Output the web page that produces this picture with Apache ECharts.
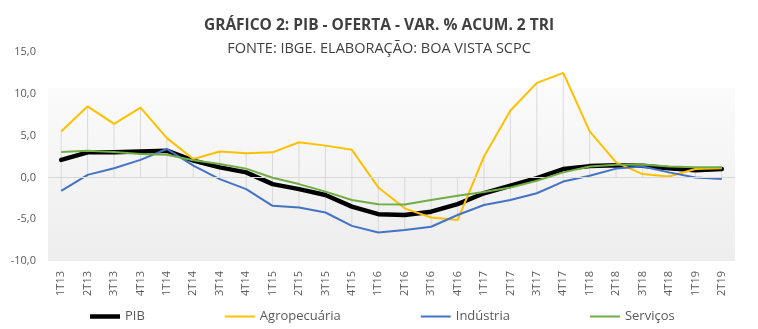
<!DOCTYPE html>
<html>
<head>
<meta charset="utf-8">
<script src="https://cdn.jsdelivr.net/npm/echarts@6/dist/echarts.min.js"></script>
<style>
  html, body { margin: 0; padding: 0; background: #ffffff; }
  #chart { width: 758px; height: 329px; }
</style>
</head>
<body>
<div id="chart"></div>
<script>
// Quarters 1T13 .. 2T19
const quarters = ['1T13','2T13','3T13','4T13','1T14','2T14','3T14','4T14','1T15','2T15','3T15','4T15',
  '1T16','2T16','3T16','4T16','1T17','2T17','3T17','4T17','1T18','2T18','3T18','4T18','1T19','2T19'];

// Accumulated % change by sector
const pib = [2.1, 3.0, 3.0, 3.1, 3.2, 2.0, 1.2, 0.6, -0.8, -1.4, -2.1, -3.5,
  -4.4, -4.5, -4.1, -3.2, -1.9, -1.0, -0.1, 1.0, 1.35, 1.45, 1.4, 1.1, 0.85, 1.0];
const agropecuaria = [5.5, 8.5, 6.4, 8.35, 4.7, 2.2, 3.1, 2.9, 3.0, 4.2, 3.8, 3.3,
  -1.2, -3.7, -4.8, -5.1, 2.5, 8.0, 11.3, 12.5, 5.5, 1.8, 0.4, 0.1, 1.0, 1.1];
const industria = [-1.6, 0.3, 1.1, 2.1, 3.4, 1.4, -0.2, -1.4, -3.4, -3.6, -4.2, -5.8,
  -6.6, -6.3, -5.9, -4.5, -3.3, -2.7, -1.9, -0.5, 0.2, 1.05, 1.3, 0.6, 0.0, -0.2];
const servicos = [3.05, 3.2, 3.05, 2.8, 2.7, 2.05, 1.6, 1.05, -0.05, -0.8, -1.7, -2.7,
  -3.2, -3.25, -2.7, -2.2, -1.75, -1.2, -0.4, 0.6, 1.3, 1.5, 1.55, 1.3, 1.2, 1.2];

const yTicks = { min: -10, max: 15, step: 5 };

const FONT = '"Open Sans", sans-serif';
const TEXT = '#595959';

// Vertical high-low line per quarter, spanning all sectors and the zero line
const ranges = quarters.map((q, i) => {
  const vals = [0, pib[i], agropecuaria[i], industria[i], servicos[i]];
  return [i, Math.max(...vals), Math.min(...vals)];
});

// Flat bar icons for the legend (thick one for PIB)
const thickBar = 'path://M0,0 L30,0 L30,4.5 L0,4.5 Z';
const thinBar = 'path://M0,0 L30,0 L30,2 L0,2 Z';

const chart = echarts.init(document.getElementById('chart'), null, { renderer: 'canvas' });

chart.setOption({
  animation: false,
  backgroundColor: '#ffffff',
  title: [
    {
      text: 'GRÁFICO 2: PIB - OFERTA - VAR. % ACUM. 2 TRI',
      left: 'center', top: 13,
      textStyle: { fontFamily: FONT, fontSize: 15.5, fontWeight: 'bold', color: '#404040' }
    },
    {
      text: 'FONTE: IBGE. ELABORAÇÃO: BOA VISTA SCPC',
      left: 'center', top: 36,
      textStyle: { fontFamily: FONT, fontSize: 14.5, fontWeight: 'normal', color: '#404040' }
    }
  ],
  legend: {
    left: 85, top: 305,
    itemGap: 80, itemWidth: 30, itemHeight: 14,
    textStyle: { fontFamily: FONT, fontSize: 13, color: TEXT },
    data: [
      { name: 'PIB', icon: thickBar },
      { name: 'Agropecuária', icon: thinBar },
      { name: 'Indústria', icon: thinBar },
      { name: 'Serviços', icon: thinBar }
    ]
  },
  grid: {
    left: 48, right: 23, top: 52, bottom: 68,
    show: true, borderWidth: 0,
    backgroundColor: new echarts.graphic.LinearGradient(0, 0, 0, 1, [
      { offset: 0, color: '#ffffff' },
      { offset: 0.17, color: '#ffffff' },
      { offset: 0.171, color: '#fbfbfb' },
      { offset: 1, color: '#ededed' }
    ])
  },
  xAxis: {
    type: 'category',
    data: quarters,
    boundaryGap: true,
    axisLine: { show: false },
    axisTick: { show: false },
    axisLabel: { rotate: 90, margin: 10, fontFamily: FONT, fontSize: 11, color: TEXT }
  },
  yAxis: {
    type: 'value',
    min: yTicks.min, max: yTicks.max, interval: yTicks.step,
    axisLine: { show: false },
    axisTick: { show: false },
    splitLine: { show: false },
    axisLabel: {
      margin: 12, fontFamily: FONT, fontSize: 11, color: TEXT,
      formatter: v => v.toFixed(1).replace('.', ',')
    }
  },
  series: [
    {
      name: 'hilo',
      type: 'custom',
      z: 1,
      silent: true,
      data: ranges,
      encode: { x: 0, y: [1, 2] },
      renderItem: (params, api) => {
        const top = api.coord([api.value(0), api.value(1)]);
        const bot = api.coord([api.value(0), api.value(2)]);
        return {
          type: 'line',
          shape: { x1: top[0], y1: top[1], x2: bot[0], y2: bot[1] },
          style: { stroke: '#d9d9d9', lineWidth: 1 }
        };
      },
      markLine: {
        silent: true,
        symbol: 'none',
        label: { show: false },
        lineStyle: { color: '#d9d9d9', width: 1, type: 'solid' },
        data: [{ yAxis: 0 }]
      }
    },
    {
      name: 'PIB', type: 'line', z: 2, data: pib,
      symbol: 'none', smooth: false,
      lineStyle: { color: '#000000', width: 4.5, cap: 'round', join: 'round' },
      itemStyle: { color: '#000000' }
    },
    {
      name: 'Agropecuária', type: 'line', z: 3, data: agropecuaria,
      symbol: 'none',
      lineStyle: { color: '#FFC000', width: 2 },
      itemStyle: { color: '#FFC000' }
    },
    {
      name: 'Indústria', type: 'line', z: 4, data: industria,
      symbol: 'none',
      lineStyle: { color: '#4472C4', width: 2 },
      itemStyle: { color: '#4472C4' }
    },
    {
      name: 'Serviços', type: 'line', z: 5, data: servicos,
      symbol: 'none',
      lineStyle: { color: '#70AD47', width: 2 },
      itemStyle: { color: '#70AD47' }
    }
  ]
});
</script>
</body>
</html>
